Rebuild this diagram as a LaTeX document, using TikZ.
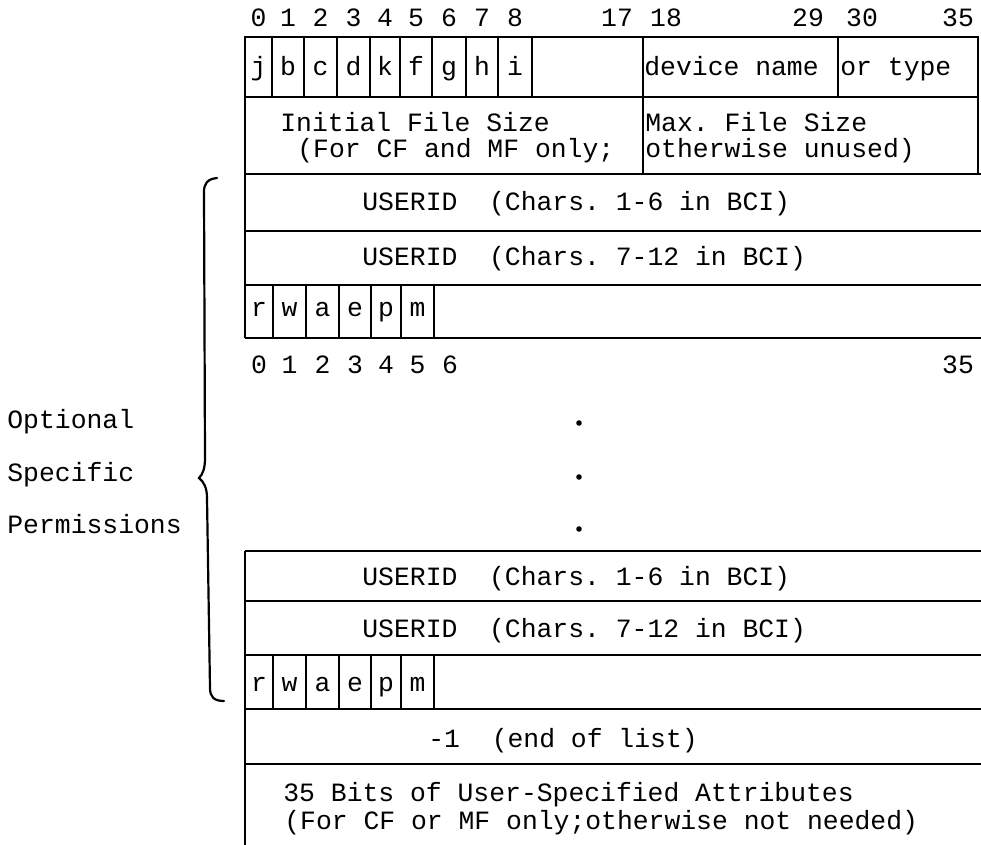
\documentclass[tikz,border=0pt]{standalone}
\usepackage{fontspec}
\newfontfamily\typewriter{Liberation Mono}
\newcommand{\tw}{\typewriter\frenchspacing\fontsize{13.2}{16}\selectfont}
\tikzset{
  wordRule/.style={line width=0.9pt},
  braceRule/.style={line width=1.1pt, line cap=round},
  bitNum/.style={font=\tw, inner sep=0pt, anchor=base},
  fieldText/.style={font=\tw, inner sep=0pt, anchor=base west},
  sideText/.style={font=\tw, inner sep=0pt, anchor=base west},
  gapDot/.style={fill, circle, inner sep=0pt, minimum size=2.8pt}
}

\begin{document}
\begin{tikzpicture}[x=0.5pt, y=-0.5pt]
  \useasboundingbox (0,0) rectangle (981,845);

  \draw[wordRule] (245,37) rectangle (978,174);
  \draw[wordRule] (245,97) -- (978,97);
  \draw[wordRule] (643,37) -- (643,174);
  \draw[wordRule] (838,37) -- (838,97);
  \foreach \x in {272,304,337,370,400,432,466,498,532}
    \draw[wordRule] (\x,37) -- (\x,97);
  \foreach \x/\c [count=\i from 0] in {258.5/j,288/b,320.5/c,353.5/d,385/k,416/f,449/g,482/h,515/i} {
    \node[bitNum] (flag\i) at (\x,76) {\c};
    \node[bitNum] (topBit\i) at (\x,27) {\i};
  }
  \node[bitNum] (topBit17) at (617,27) {17};
  \node[bitNum] (topBit18) at (666,27) {18};
  \node[bitNum] (topBit29) at (808,27) {29};
  \node[bitNum] (topBit30) at (862,27) {30};
  \node[bitNum] (topBit35) at (958,27) {35};
  \node[fieldText] (devName) at (644,76) {device name};
  \node[fieldText] (devType) at (840,76) {or type};
  \node[fieldText] (initSize) at (280,132) {Initial File Size};
  \node[fieldText] (initNote) at (297,158) {(For CF and MF only;};
  \node[fieldText] (maxSize) at (645,132) {Max. File Size};
  \node[fieldText] (maxNote) at (645,158) {otherwise unused)};

  \draw[wordRule] (245,174) -- (245,338);
  \foreach \y in {174,231,285,338}
    \draw[wordRule] (245,\y) -- (981,\y);
  \node[fieldText] (userA) at (362,211) {USERID\ \ (Chars. 1-6 in BCI)};
  \node[fieldText] (userB) at (362,266) {USERID\ \ (Chars. 7-12 in BCI)};
  \foreach \x in {273,306,339,371,401,434}
    \draw[wordRule] (\x,285) -- (\x,338);
  \foreach \x/\c [count=\i from 0] in {259/r,289.5/w,322.5/a,355/e,386/p,417.5/m} {
    \node[bitNum] (permA\i) at (\x,317) {\c};
    \node[bitNum] (lowBit\i) at (\x,374) {\i};
  }
  \node[bitNum] (lowBit6) at (450,374) {6};
  \node[bitNum] (lowBit35) at (958,374) {35};

  \node[gapDot] (dotA) at (579,423) {};
  \node[gapDot] (dotB) at (579,477) {};
  \node[gapDot] (dotC) at (579,529) {};

  \draw[wordRule] (245,551) -- (245,845);
  \foreach \y in {551,601,655,709,764}
    \draw[wordRule] (245,\y) -- (981,\y);
  \node[fieldText] (userC) at (362,585) {USERID\ \ (Chars. 1-6 in BCI)};
  \node[fieldText] (userD) at (362,637) {USERID\ \ (Chars. 7-12 in BCI)};
  \foreach \x in {273,306,339,371,401,434}
    \draw[wordRule] (\x,655) -- (\x,709);
  \foreach \x/\c [count=\i from 0] in {259/r,289.5/w,322.5/a,355/e,386/p,417.5/m}
    \node[bitNum] (permB\i) at (\x,691) {\c};
  \node[fieldText] (endList) at (428,747) {-1\ \ (end of list)};
  \node[fieldText] (attrA) at (283,801) {35 Bits of User-Specified Attributes};
  \node[fieldText] (attrB) at (284,829) {(For CF or MF only;otherwise not needed)};

  \draw[braceRule] (217,178) .. controls (207,179) and (204,184) .. (204,192)
    -- (205,458) .. controls (205,468) and (203,474) .. (199,478)
    .. controls (204,482) and (207,488) .. (207,498)
    -- (210,688) .. controls (210,697) and (214,701) .. (224,701);
  \node[sideText] (optional) at (7,429) {Optional};
  \node[sideText] (specific) at (7,481) {Specific};
  \node[sideText] (permissions) at (7,533) {Permissions};
\end{tikzpicture}
\end{document}
